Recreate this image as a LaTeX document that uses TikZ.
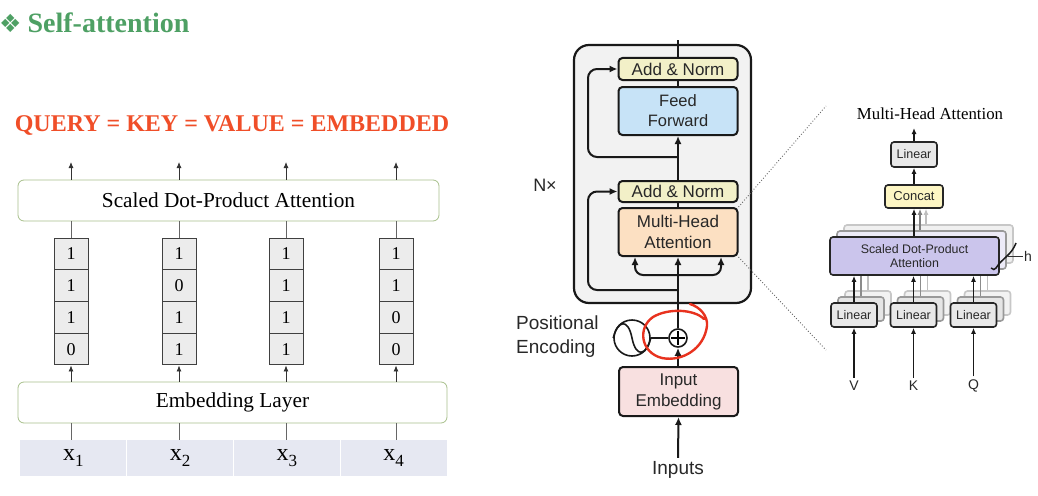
\documentclass[tikz,border=0pt]{standalone}
\usepackage{fontspec}
\setmainfont{Liberation Serif}
\newfontfamily\sansf{Liberation Sans}
\newfontfamily\symf{DejaVu Sans}
\usetikzlibrary{arrows.meta,calc}
\definecolor{titlegreen}{RGB}{78,160,100}
\definecolor{qred}{RGB}{240,78,40}
\definecolor{boxgreen}{RGB}{168,192,140}
\definecolor{cellgray}{RGB}{236,236,236}
\definecolor{tokfill}{RGB}{230,232,242}
\definecolor{encfill}{RGB}{242,242,242}
\definecolor{addnorm}{RGB}{242,240,200}
\definecolor{ffblue}{RGB}{199,227,247}
\definecolor{mhaor}{RGB}{252,224,194}
\definecolor{iepink}{RGB}{248,224,224}
\definecolor{concaty}{RGB}{253,246,196}
\definecolor{lingray}{RGB}{232,232,232}
\definecolor{sdpapur}{RGB}{203,197,236}
\definecolor{txtdark}{RGB}{40,40,40}
\definecolor{pered}{RGB}{232,50,30}
\tikzset{
  lbox/.style={draw=boxgreen, line width=0.8pt, rounded corners=6pt, fill=white, inner sep=0pt},
  cell/.style={draw=black!75, line width=1pt, fill=cellgray, minimum width=34pt, minimum height=31.75pt, inner sep=0pt, font=\fontsize{18}{20}\selectfont},
  tok/.style={fill=tokfill, minimum width=106pt, minimum height=36pt, inner sep=0pt},
  larr/.style={-{Latex[length=6pt,width=5pt]}, line width=0.8pt, black!80},
  lline/.style={line width=0.8pt, black!60},
  eblk/.style={draw=black!90, line width=2pt, rounded corners=4pt, inner sep=0pt, minimum width=119pt, align=center, text=txtdark, font=\sansf\fontsize{17}{21}\selectfont},
  earr/.style={-{Latex[length=8pt,width=7pt]}, line width=2pt, black!90},
  eline/.style={line width=2pt, black!90},
  mblk/.style={draw=black!85, line width=1.6pt, rounded corners=3pt, inner sep=0pt, align=center, text=txtdark, font=\sansf\fontsize{12.5}{14}\selectfont},
  marr/.style={-{Latex[length=6pt,width=5pt]}, line width=1.6pt, black!90},
  mlab/.style={font=\sansf\fontsize{14}{15}\selectfont, text=txtdark},
}
\begin{document}
\begin{tikzpicture}[x=1pt,y=-1pt]
\useasboundingbox (0,0) rectangle (1038,495);
\fill[white] (0,0) rectangle (1038,495);

% ---------------- left part ----------------
\node[anchor=west, inner sep=0pt, text=titlegreen] (title) at (-1,23) {{\symf\fontsize{25}{26}\selectfont ❖}\hspace{6pt}{\fontsize{28}{30}\selectfont\bfseries Self-attention}};
\node[text=qred, font=\fontsize{24}{26}\selectfont\bfseries, inner sep=0pt] (q) at (232,125) {QUERY = KEY = VALUE = EMBEDDED};

\node[lbox, minimum width=421pt, minimum height=41pt, font=\fontsize{21.3}{22}\selectfont] (sdpa) at (228.5,200.5) {Scaled Dot-Product Attention};
\node[lbox, minimum width=429pt, minimum height=41pt, font=\fontsize{21.3}{22}\selectfont] (emb) at (232.5,402.5) {Embedding Layer};

\foreach \col/\x/\tx/\ra/\rb/\rc/\rd in {1/71/73.4/1/1/1/0, 2/179/180.1/1/0/1/1, 3/286/286.9/1/1/1/1, 4/396/393.6/1/1/0/0}{
  \node[cell] (v\col a) at (\x,253.9) {\ra};
  \node[cell] (v\col b) at (\x,285.6) {\rb};
  \node[cell] (v\col c) at (\x,317.4) {\rc};
  \node[cell] (v\col d) at (\x,349.1) {\rd};
  \node[tok] (tok\col) at (\tx,458) {{\fontsize{24}{25}\selectfont x}\raisebox{-6pt}{\fontsize{17}{18}\selectfont\col}};
  \coordinate (t\col) at (\x,162);
  \draw[larr] (sdpa.north -| v\col a) -- (t\col);
  \draw[lline] (sdpa.south -| v\col a) -- (v\col a.north);
  \draw[larr] (emb.north -| v\col a) -- (v\col d.south);
  \draw[lline] (emb.south -| v\col a) -- (tok\col.north -| v\col a);
}

% ---------------- encoder ----------------
\node[draw=black!90, line width=2.2pt, fill=encfill, rounded corners=15pt, minimum width=177pt, minimum height=258pt, inner sep=0pt] (enc) at (662.5,174) {};
\node[font=\sansf\fontsize{18}{20}\selectfont, text=txtdark] (nx) at (545,185) {N×};

\node[eblk, fill=addnorm, minimum height=22pt] (an1) at (678,69) {Add \& Norm};
\node[eblk, fill=ffblue, minimum height=48pt, font=\sansf\fontsize{16.5}{20}\selectfont] (ff) at (678,111) {Feed\\Forward};
\node[eblk, fill=addnorm, minimum height=21pt] (an2) at (678,191.5) {Add \& Norm};
\node[eblk, fill=mhaor, minimum height=48pt] (mha) at (678,232) {Multi-Head\\Attention};
\node[eblk, fill=iepink, minimum height=49pt] (ie) at (678.5,391.5) {Input\\Embedding};

\node[circle, draw=black!90, line width=1.6pt, minimum size=36pt, inner sep=0pt] (pe) at (632,338) {};
\draw[line width=1.6pt, black!90] (pe.west) .. controls (618,320) and (628,318) .. (pe.center) .. controls (636,358) and (646,356) .. (pe.east);
\node[circle, draw=black!90, line width=1.6pt, minimum size=18pt, inner sep=0pt] (plus) at (678,338) {};
\draw[line width=1.4pt] ($(plus.center)+(0,-7)$) -- ($(plus.center)+(0,7)$);
\draw[line width=1.4pt] ($(plus.center)+(-7,0)$) -- ($(plus.center)+(7,0)$);
\node[anchor=west, align=left, font=\sansf\fontsize{19}{24}\selectfont, text=txtdark, inner sep=0pt] (pet) at (516,337) {Positional\\Encoding};
\node[font=\sansf\fontsize{19}{20}\selectfont, text=txtdark] (inp) at (678,470) {Inputs};

\draw[earr] (inp.north) -- (ie.north |- ie.south);
\draw[earr] (ie.north -| plus) -- (plus.south);
\draw[eline] (pe.east) -- (plus.west);
\draw[earr] (plus.north) -- (mha.south);
\draw[eline] (mha.north) -- (an2.south);
\draw[earr] (an2.north) -- (ff.south);
\draw[eline] (ff.north) -- (an1.south);
\coordinate (outtop) at (678,40);
\draw[eline] (an1.north) -- (outtop);
\coordinate (r1) at (678,290);
\draw[earr, rounded corners=9pt] (r1) -- (588,290) -- (588,191.5) -- (an2.west);
\coordinate (r2) at (678,157);
\draw[earr, rounded corners=9pt] (r2) -- (588,157) -- (588,69) -- (an1.west);
\coordinate (br) at (678,275);
\coordinate (bl) at (635,275);
\coordinate (brr) at (721,275);
\draw[earr, rounded corners=8pt] (br) -- (bl) -- (mha.south -| bl);
\draw[earr, rounded corners=8pt] (br) -- (brr) -- (mha.south -| brr);

% red hand-drawn ellipse
\draw[pered, line width=2.4pt, line cap=round] (690,304) .. controls (700,307) and (708,316) .. (707,326) .. controls (704,349) and (682,362) .. (662,358) .. controls (641,353) and (637,328) .. (653,317) .. controls (668,308) and (694,309) .. (704,319);

% dotted zoom lines
\coordinate (d1) at (826,106);
\coordinate (d2) at (826,350);
\draw[dotted, line width=0.9pt, black!60] (mha.north east) -- (d1);
\draw[dotted, line width=0.9pt, black!60] (mha.south east) -- (d2);

% ---------------- multi-head attention ----------------
\node[font=\fontsize{16.8}{18}\selectfont] (mhat) at (930,114) {Multi-Head Attention};
\node[mblk, fill=lingray, minimum width=46pt, minimum height=25pt] (lin) at (914,154.5) {Linear};
\node[mblk, fill=concaty, minimum width=58pt, minimum height=23pt, font=\sansf\fontsize{13}{14}\selectfont] (cat) at (914,196.5) {Concat};
\coordinate (mtop) at (914,128);
\draw[marr] (lin.north) -- (mtop);
\draw[marr] (cat.north) -- (lin.south);

\node[mblk, draw=black!22, fill=black!6, minimum width=169pt, minimum height=38pt] (s3) at (928.5,244) {};
\node[mblk, draw=black!40, fill=sdpapur!35, minimum width=169pt, minimum height=38pt] (s2) at (921.5,250) {};
\draw[marr, black!25] ($(s3.north)+(-2.5,0)$) -- ($(cat.south)+(12,0)$);
\draw[marr, black!50] ($(s2.north)+(-1.5,0)$) -- ($(cat.south)+(6,0)$);

\foreach \k/\x in {1/854, 2/913.5, 3/973.5}{
  \node[mblk, draw=black!22, fill=black!5, minimum width=46pt, minimum height=24pt] (l\k c) at (\x+14,303) {};
  \node[mblk, draw=black!40, fill=black!10, minimum width=46pt, minimum height=24pt] (l\k b) at (\x+7,309) {};
  \draw[line width=1.4pt, black!25] (l\k c.north) -- ++(0,-18);
  \draw[line width=1.4pt, black!45] (l\k b.north) -- ++(0,-24);
}
\node[mblk, fill=sdpapur, minimum width=169pt, minimum height=38pt, font=\sansf\fontsize{12.4}{14}\selectfont] (sdpa2) at (914.5,256) {Scaled Dot-Product\\Attention};
\draw[marr] (sdpa2.north -| cat.south) -- (cat.south);

\foreach \k/\x/\lab in {1/854/V, 2/913.5/K, 3/973.5/Q}{
  \node[mblk, fill=lingray, minimum width=46pt, minimum height=24pt] (l\k) at (\x,315) {Linear};
  \node[mlab] (in\k) at (\x,386) {\lab};
  \draw[marr] (in\k.north) -- (l\k.south);
  \draw[marr] (l\k.north) -- (sdpa2.south -| l\k.north);
}

% h brace
\draw[line width=1.5pt, black!90] (1016,243) .. controls (1013,250) and (1011,252) .. (1007,256) .. controls (1003,260) and (999,263) .. (996,268) .. controls (995,270) and (993,270) .. (991,268);
\coordinate (hb) at (1008,256);
\node[mlab, inner sep=1pt] (hl) at (1028,256) {h};
\draw[line width=1pt, black!80] (hb) -- (hl.west);
\end{tikzpicture}
\end{document}
